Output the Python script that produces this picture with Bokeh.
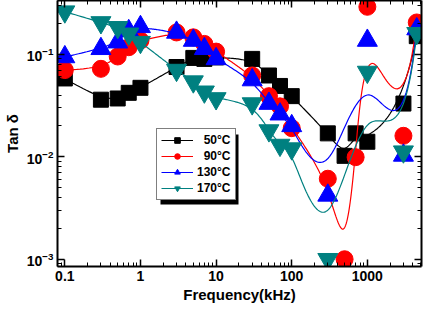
import numpy as np
from bokeh.plotting import figure
from bokeh.models import (Range1d, LogAxis, FixedTicker, CustomJSTickFormatter,
                          Legend, LegendItem, BoxAnnotation, LogTickFormatter)
from bokeh.embed import file_html
from bokeh.resources import INLINE

# ---------------- data ----------------
freq_50 = [0.1, 0.3, 0.5, 0.7, 1, 3, 5, 7, 10, 30, 50, 70, 100, 300, 500, 700, 1000, 3000, 4500]
tan_50 = [0.058, 0.036, 0.037, 0.042, 0.047, 0.075, 0.092, 0.090, 0.093, 0.090, 0.062, 0.049,
          0.039, 0.0169, 0.0102, 0.0169, 0.014, 0.033, 0.15]

freq_90 = [0.1, 0.3, 0.5, 0.7, 1, 3, 5, 7, 10, 30, 50, 70, 100, 300, 500, 700, 1000, 3000, 4500]
tan_90 = [0.070, 0.072, 0.095, 0.117, 0.136, 0.163, 0.146, 0.126, 0.106, 0.062, 0.039, 0.031,
          0.019, 0.0061, 0.001, 0.0099, 0.29, 0.016, 0.204]

freq_130 = [0.1, 0.3, 0.5, 0.7, 1, 3, 5, 7, 10, 30, 50, 70, 100, 300, 1000, 3000, 4500]
tan_130 = [0.094, 0.113, 0.131, 0.169, 0.185, 0.163, 0.136, 0.113, 0.090, 0.056, 0.033, 0.026,
           0.020, 0.0042, 0.136, 0.0103, 0.176]

freq_170 = [0.1, 0.3, 0.5, 0.7, 1, 3, 5, 7, 10, 30, 50, 70, 100, 300, 1000, 3000, 4500]
tan_170 = [0.26, 0.204, 0.183, 0.158, 0.131, 0.070, 0.054, 0.043, 0.037, 0.033, 0.018, 0.013,
           0.012, 0.001, 0.067, 0.0112, 0.16]

labels = ["\u200750\u00b0C", "\u200790\u00b0C", "130\u00b0C", "170\u00b0C"]
colors = ["#000000", "#FF0000", "#0000FF", "#008080"]
markers = ["square", "circle", "triangle", "inverted_triangle"]
sizes = [15, 17, 20, 20]

x_major = [0.1, 1, 10, 100, 1000]
y_major = [0.001, 0.01, 0.1]
x_minor = [m * 10.0 ** e for e in range(-2, 4) for m in range(2, 10)]
y_minor = [m * 10.0 ** e for e in range(-4, 0) for m in range(2, 10)]


def bspline(xs, ys, n_out=400):
    """Clamped uniform cubic B-spline using the data points as control points (log-log space)."""
    P = np.column_stack([np.log10(xs), np.log10(ys)])
    n = len(P)
    t = [0.0] * 4 + list(range(1, n - 3)) + [float(n - 3)] * 4
    t = np.array(t, dtype=float)
    us = np.linspace(0, n - 3, n_out)
    out = []
    for u in us:
        k = 3
        while k < n - 1 and not (t[k] <= u < t[k + 1]):
            k += 1
        d = [P[j + k - 3].copy() for j in range(4)]
        for r in range(1, 4):
            for j in range(3, r - 1, -1):
                den = t[j + 1 + k - r] - t[j + k - 3]
                a = 0.0 if den == 0 else (u - t[j + k - 3]) / den
                d[j] = (1 - a) * d[j - 1] + a * d[j]
        out.append(d[3])
    out = np.array(out)
    return 10 ** out[:, 0], 10 ** out[:, 1]


p = figure(width=425, height=305, x_axis_type="log", y_axis_type="log",
           x_range=Range1d(0.08, 5200), y_range=Range1d(0.00085, 0.334),
           output_backend="svg", toolbar_location=None,
           min_border_left=46, min_border_right=4, min_border_top=0, min_border_bottom=38)
p.xgrid.visible = False
p.ygrid.visible = False
p.outline_line_color = None
p.background_fill_color = "white"


def style_axis(ax, labels_on=True):
    ax.major_tick_in = 7
    ax.major_tick_out = 0
    ax.minor_tick_in = 4
    ax.minor_tick_out = 0
    ax.axis_line_width = 2
    ax.axis_line_color = "black"
    ax.major_tick_line_width = 1.5
    ax.major_tick_line_color = "black"
    ax.minor_tick_line_color = "black"
    ax.minor_tick_line_width = 1
    if labels_on:
        ax.major_label_text_font = "Liberation Sans"
        ax.major_label_text_font_style = "bold"
        ax.major_label_text_font_size = "14px"
        ax.major_label_text_color = "black"
        ax.axis_label_text_font = "Liberation Sans"
        ax.axis_label_text_font_style = "bold"
        ax.axis_label_text_font_size = "15px"
        ax.axis_label_text_color = "black"
    else:
        ax.major_label_text_font_size = "1px"
        ax.major_label_standoff = 0


xa = p.xaxis[0]
xa.ticker = FixedTicker(ticks=x_major, minor_ticks=x_minor)
xa.formatter = CustomJSTickFormatter(code="return tick < 1 ? tick.toFixed(1) : tick.toFixed(0);")
xa.axis_label = "Frequency(kHz)"
style_axis(xa)
xa.major_label_standoff = 4
xa.axis_label_standoff = 2

ya = p.yaxis[0]
ya.ticker = FixedTicker(ticks=y_major, minor_ticks=y_minor)
ya.formatter = LogTickFormatter()
ya.axis_label = "Tan \u03b4"
style_axis(ya)
ya.major_label_standoff = 4
ya.axis_label_standoff = 3

empty = CustomJSTickFormatter(code="return '';")
top = LogAxis(ticker=FixedTicker(ticks=x_major, minor_ticks=x_minor), formatter=empty)
style_axis(top, labels_on=False)
p.add_layout(top, "above")
right = LogAxis(ticker=FixedTicker(ticks=y_major, minor_ticks=y_minor), formatter=empty)
style_axis(right, labels_on=False)
p.add_layout(right, "right")

series = [(freq_50, tan_50), (freq_90, tan_90), (freq_130, tan_130), (freq_170, tan_170)]
items = []
for (fx, ty), lab, col, mk, sz in zip(series, labels, colors, markers, sizes):
    cx, cy = bspline(fx, ty)
    lr = p.line(cx, cy, line_color=col, line_width=1.2)
    sr = p.scatter(fx, ty, marker=mk, size=sz, fill_color=col, line_color=col)
    items.append(LegendItem(label=lab, renderers=[lr, sr]))

LX, LY, LW, LH = 99, 66, 78, 70
shadow = BoxAnnotation(left=LX + 4, right=LX + LW + 4, bottom=LY - 4, top=LY + LH - 4,
                       left_units="screen", right_units="screen",
                       bottom_units="screen", top_units="screen",
                       fill_color="black", fill_alpha=1.0, line_color=None)
p.add_layout(shadow)

legend = Legend(items=items, location=(LX, LY), padding=4, spacing=2, margin=0,
                glyph_width=32, glyph_height=14, label_height=14, label_standoff=4,
                label_text_font="Liberation Sans", label_text_font_style="bold",
                label_text_font_size="12px", label_text_color="black",
                border_line_color="black", border_line_width=1.5,
                background_fill_color="white", background_fill_alpha=1.0)
p.add_layout(legend, "center")

open("out.html", "w").write(file_html(p, INLINE))
